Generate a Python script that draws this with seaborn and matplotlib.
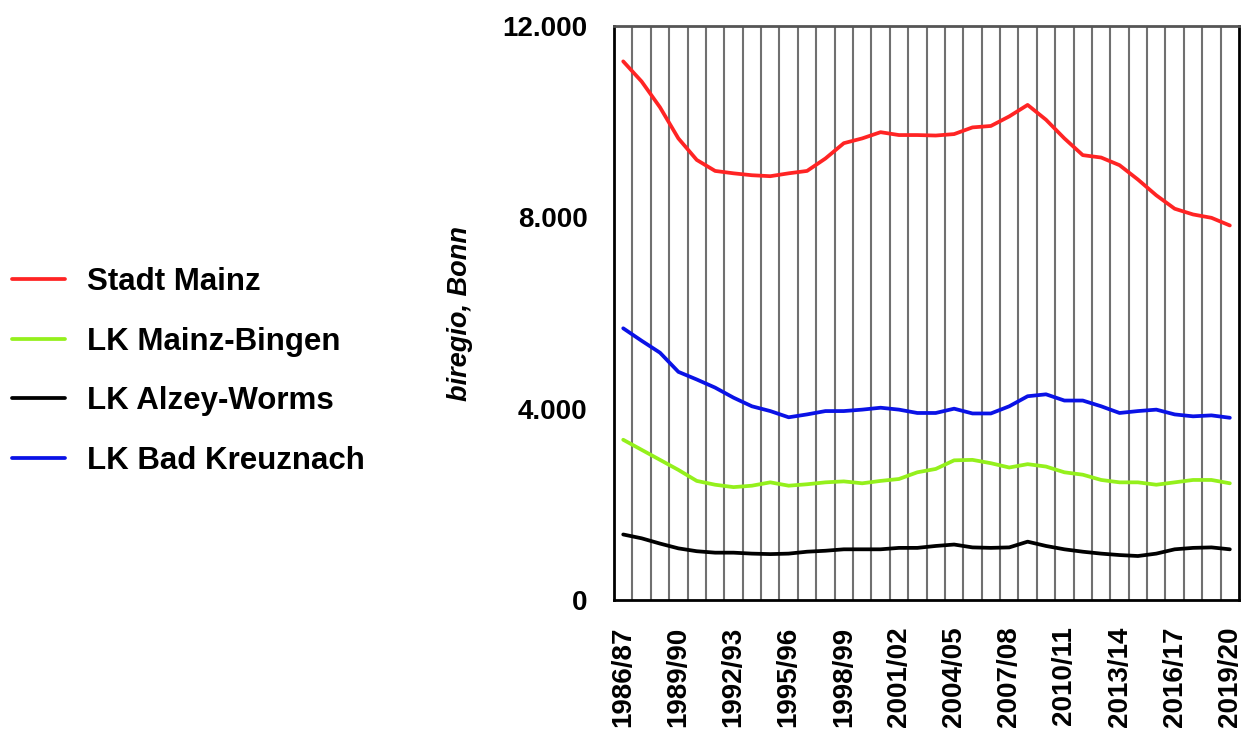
import numpy as np
import pandas as pd
import matplotlib
matplotlib.use("Agg")
import matplotlib.pyplot as plt
import seaborn as sns

# School years 1986/87 .. 2019/20
seasons = [f"{y}/{str(y + 1)[-2:]}" for y in range(1986, 2020)]

stadt_mainz = [11260, 10840, 10300, 9650, 9200, 8970, 8920, 8880, 8860, 8920,
               8970, 9230, 9550, 9650, 9780, 9720, 9720, 9710, 9740, 9880,
               9910, 10110, 10350, 10040, 9650, 9300, 9250, 9090, 8790, 8460,
               8180, 8060, 7990, 7830]
lk_mainz_bingen = [3350, 3140, 2930, 2720, 2490, 2410, 2360, 2390, 2460, 2390,
                   2420, 2460, 2480, 2440, 2490, 2530, 2670, 2740, 2920, 2930,
                   2860, 2770, 2840, 2790, 2670, 2620, 2510, 2460, 2460, 2410,
                   2460, 2510, 2510, 2440]
lk_alzey_worms = [1370, 1290, 1180, 1080, 1020, 990, 990, 970, 960, 970,
                  1010, 1030, 1060, 1060, 1060, 1090, 1090, 1130, 1160, 1100,
                  1090, 1100, 1220, 1130, 1060, 1010, 970, 940, 920, 970,
                  1060, 1090, 1100, 1060]
lk_bad_kreuznach = [5680, 5420, 5170, 4770, 4610, 4440, 4230, 4050, 3950, 3820,
                    3880, 3950, 3950, 3980, 4020, 3980, 3910, 3910, 4000, 3900,
                    3900, 4050, 4260, 4300, 4170, 4170, 4050, 3910, 3950, 3980,
                    3880, 3840, 3860, 3810]

series_names = ["Stadt Mainz", "LK Mainz-Bingen", "LK Alzey-Worms", "LK Bad Kreuznach"]
series_values = [stadt_mainz, lk_mainz_bingen, lk_alzey_worms, lk_bad_kreuznach]
series_colors = ["#ff2424", "#94f01c", "#000000", "#0a12e6"]

y_ticks = [0, 4000, 8000, 12000]
y_ticklabels = ["0", "4.000", "8.000", "12.000"]

frames = []
for name, vals in zip(series_names, series_values):
    frames.append(pd.DataFrame({"pos": np.arange(len(seasons)),
                                "value": vals, "Kreis": name}))
df = pd.concat(frames, ignore_index=True)

sns.set_theme(style="white")
plt.rcParams["font.family"] = ["Liberation Sans", "DejaVu Sans"]
plt.rcParams["font.weight"] = "bold"
plt.rcParams["text.color"] = "black"
plt.rcParams["axes.labelcolor"] = "black"
plt.rcParams["xtick.color"] = "black"
plt.rcParams["ytick.color"] = "black"

fig = plt.figure(figsize=(12.45, 7.32), dpi=100)
ax = fig.add_axes([0.4932, 0.1803, 0.502, 0.7842])

sns.lineplot(data=df, x="pos", y="value", hue="Kreis", hue_order=series_names,
             palette=dict(zip(series_names, series_colors)), linewidth=2.7,
             ax=ax, legend=False)

n = len(seasons)
ax.set_xlim(-0.5, n - 0.5)
ax.set_ylim(0, 12000)

# category boundaries as vertical grid lines
ax.set_xticks(np.arange(0.5, n - 0.5, 1.0), minor=True)
ax.grid(which="minor", axis="x", color="#707070", linewidth=1.5)
ax.grid(which="major", visible=False)
ax.set_axisbelow(True)

label_idx = list(range(0, n, 3))
ax.set_xticks(label_idx)
ax.set_xticklabels([seasons[i] for i in label_idx], rotation=90,
                   fontsize=20, fontweight="bold", color="black")
ax.set_yticks(y_ticks)
ax.set_yticklabels(y_ticklabels, fontsize=20, fontweight="bold", color="black")
ax.tick_params(axis="both", which="both", length=0)
ax.tick_params(axis="x", pad=19)
ax.tick_params(axis="y", pad=19)

ax.set_xlabel("")
ax.set_ylabel("biregio, Bonn", fontsize=19.5, fontweight="bold",
              fontstyle="italic", labelpad=21, color="black")

for side in ["left", "bottom", "right"]:
    ax.spines[side].set_color("black")
    ax.spines[side].set_linewidth(2)
ax.spines["top"].set_color("#555555")
ax.spines["top"].set_linewidth(2)

handles = [plt.Line2D([], [], color=c, linewidth=2.7) for c in series_colors]
leg = fig.legend(handles, series_names, loc="center left",
                 bbox_to_anchor=(0.0, 0.4925), frameon=False,
                 prop={"size": 22.5, "weight": "bold"},
                 handlelength=1.7, handletextpad=0.7, labelspacing=0.95,
                 borderaxespad=0.0, borderpad=0.38)
for t in leg.get_texts():
    t.set_color("black")

fig.savefig("out.png", dpi=100, facecolor="white")
